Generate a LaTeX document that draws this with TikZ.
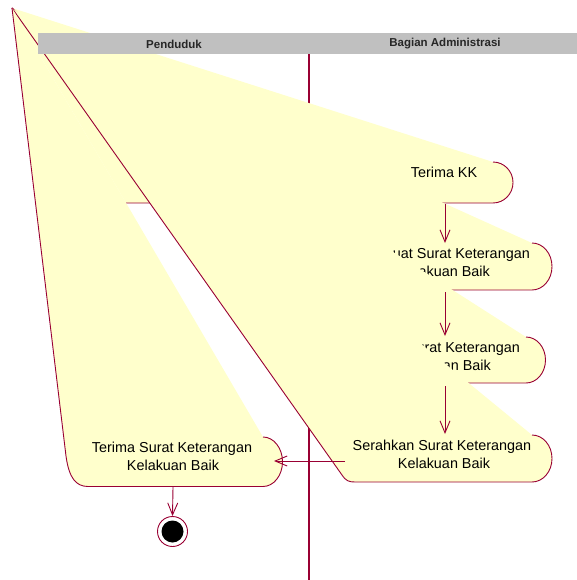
\documentclass[tikz,border=0pt]{standalone}
\usepackage{fontspec}
\setmainfont{Liberation Sans}
\usetikzlibrary{arrows.meta}
\definecolor{actfill}{HTML}{FFFFCC}
\definecolor{actline}{HTML}{990033}
\definecolor{lanehead}{HTML}{C0C0C0}

\begin{document}
\begin{tikzpicture}[x=1pt,y=-1pt,
  actshape/.style={fill=actfill, draw=none},
  actedge/.style={draw=actline, line width=0.9pt, line join=round},
  acttext/.style={font=\fontsize{14.4}{18}\selectfont, text=black, inner sep=0pt},
  flow/.style={draw=actline, line width=0.9pt, -{Straight Barb[length=12pt,width=10pt]}},
  lane/.style={draw=actline, line width=1.8pt},
  headtext/.style={font=\bfseries\fontsize{11.5}{13}\selectfont, text=black!85, inner sep=0pt}
]
\useasboundingbox (0,0) rectangle (577,580);
\coordinate (apex) at (12,8);

% swimlane divider (behind the activities)
\draw[lane] (309,54) -- (309,580);

% Terima KK
\path[actshape] (apex) -- (493,162) arc[start angle=-90,end angle=90,x radius=20,y radius=20.5] -- (126,203) -- cycle;
\draw[actedge] (493,162) arc[start angle=-90,end angle=90,x radius=20,y radius=20.5] -- (126,203);
\node[acttext, anchor=base] (kk) at (444,177) {Terima KK};

% Buat Surat Keterangan
\path[actshape] (apex) -- (532,243) arc[start angle=-90,end angle=90,x radius=20,y radius=23.5] -- (358,290) -- (340,282) -- cycle;
\draw[actedge] (532,243) arc[start angle=-90,end angle=90,x radius=20,y radius=23.5] -- (358,290) -- (340,282) -- (apex);
\node[acttext, anchor=base east] (buat1) at (530,258) {uat Surat Keterangan};
\node[acttext, anchor=base east] (buat2) at (490,276) {akuan Baik};

% Cetak Surat Keterangan
\path[actshape] (apex) -- (526,337) arc[start angle=-90,end angle=90,x radius=19.5,y radius=23] -- (365,383) -- (347,375) -- cycle;
\draw[actedge] (526,337) arc[start angle=-90,end angle=90,x radius=19.5,y radius=23] -- (365,383) -- (347,375) -- (apex);
\node[acttext, anchor=base east] (cetak1) at (520,352) {urat Keterangan};
\node[acttext, anchor=base east] (cetak2) at (491,370) {an Baik};

% Serahkan Surat Keterangan Kelakuan Baik
\path[actshape] (apex) -- (532,435) arc[start angle=-90,end angle=90,x radius=20,y radius=23.5] -- (355,482) .. controls (349,482) and (346,481) .. (342,475) -- cycle;
\draw[actedge] (532,435) arc[start angle=-90,end angle=90,x radius=20,y radius=23.5] -- (355,482) .. controls (349,482) and (346,481) .. (342,475) -- (apex);
\node[acttext, anchor=base] (serah1) at (442,450) {Serahkan Surat Keterangan};
\node[acttext, anchor=base] (serah2) at (444,468) {Kelakuan Baik};

% Terima Surat Keterangan Kelakuan Baik
\path[actshape] (apex) -- (263,437) arc[start angle=-90,end angle=90,x radius=19.5,y radius=24.75] -- (88,486.5) .. controls (76,486.5) and (69,478) .. (66,456) -- cycle;
\draw[actedge] (263,437) arc[start angle=-90,end angle=90,x radius=19.5,y radius=24.75] -- (88,486.5) .. controls (76,486.5) and (69,478) .. (66,456) -- (apex);
\node[acttext, anchor=base] (terima1) at (172,452) {Terima Surat Keterangan};
\node[acttext, anchor=base] (terima2) at (173,470) {Kelakuan Baik};

% swimlane header
\fill[lanehead] (38,33) rectangle (577,54);
\node[headtext] (lane1) at (174,44) {Penduduk};
\node[headtext] (lane2) at (445,44) {Bagian Administrasi};

% final state
\node[circle, draw=actline, line width=0.9pt, fill=white, minimum size=30pt, inner sep=0pt] (final) at (172.5,531.5) {};
\fill[black] (final.center) circle[radius=11];

% transitions
\coordinate (kkS) at (445,204);
\coordinate (buatN) at (445,243);
\coordinate (buatS) at (445,292);
\coordinate (cetakN) at (445,336);
\coordinate (cetakS) at (445,386);
\coordinate (serahN) at (445,434);
\coordinate (serahW) at (345,461);
\coordinate (terimaE) at (274,461);
\coordinate (terimaS) at (173,487);
\draw[flow] (kkS) -- (buatN);
\draw[flow] (buatS) -- (cetakN);
\draw[flow] (cetakS) -- (serahN);
\draw[flow] (serahW) -- (terimaE);
\draw[flow] (terimaS) -- (final.north);
\end{tikzpicture}
\end{document}
